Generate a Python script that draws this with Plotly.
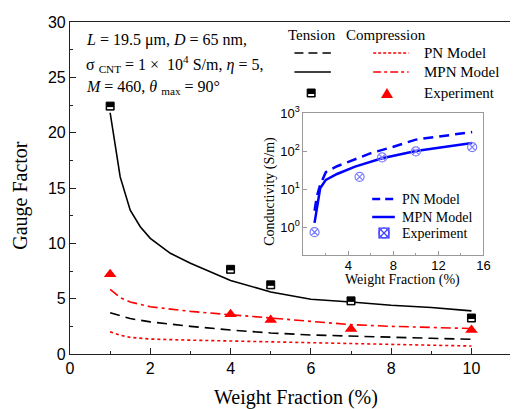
import plotly.graph_objects as go

# ---- Gauge factor vs weight fraction (main axes) ----
wf_exp = [1, 4, 5, 7, 10]
gf_tension_exp = [22.4, 7.65, 6.25, 4.8, 3.25]
gf_compression_exp = [7.2, 3.6, 3.07, 2.26, 2.17]

wf_tension_mpn = [1, 1.25, 1.5, 1.75, 2, 2.5, 3, 4, 5, 6, 7, 8, 9, 10]
gf_tension_mpn = [21.8, 16.0, 13.0, 11.5, 10.45, 9.1, 8.2, 6.65, 5.6, 4.95, 4.7, 4.4, 4.2, 3.9]

wf_tension_pn = [1, 1.5, 2, 3, 4, 5, 6, 7, 8, 9, 10]
gf_tension_pn = [3.73, 3.2, 2.9, 2.5, 2.17, 1.9, 1.72, 1.6, 1.5, 1.42, 1.33]

wf_comp_mpn = [1, 1.25, 1.5, 2, 3, 4, 5, 6, 7, 8, 9, 10]
gf_comp_mpn = [5.85, 5.1, 4.7, 4.27, 3.85, 3.55, 3.25, 2.9, 2.65, 2.5, 2.4, 2.3]

wf_comp_pn = [1, 1.25, 1.5, 2, 3, 4, 5, 6, 7, 8, 9, 10]
gf_comp_pn = [2.0, 1.7, 1.5, 1.35, 1.25, 1.2, 1.1, 1.02, 0.95, 0.88, 0.8, 0.72]

# ---- Conductivity vs weight fraction (inset) ----
wf_cond_exp = [1, 5, 7, 10, 15]
cond_exp = [0.74, 21, 68, 98, 127]

wf_cond_mpn = [1, 1.3, 1.5, 2, 3, 4.6, 7, 10, 15]
cond_mpn = [1.3, 5.2, 10.5, 17.5, 25, 39, 65, 100, 163]

wf_cond_pn = [1, 1.2, 1.5, 2, 3, 4, 6, 8, 10, 15]
cond_pn = [2.7, 6.4, 13, 28, 40, 52, 88, 130, 200, 316]

main_ticks = [0, 2, 4, 6, 8, 10]
inset_xticks = [4, 8, 12, 16]
inset_yticks = [1, 10, 100, 1000]
inset_yticktext = ["10<sup>0</sup>", "10<sup>1</sup>", "10<sup>2</sup>", "10<sup>3</sup>"]

SERIF = "Times New Roman, Liberation Serif, DejaVu Serif, serif"
SANS = "Arial, Liberation Sans, sans-serif"
W, H = 517, 409
ML, MR, MT, MB = 70, 0, 22, 55
PW, PH = W - ML - MR, H - MT - MB


def px(x):
    return (x - ML) / PW


def py(y):
    return (H - MB - y) / PH


fig = go.Figure()

# main axes curves
fig.add_trace(go.Scatter(x=wf_tension_mpn, y=gf_tension_mpn, mode="lines",
                         line=dict(color="black", width=1.6)))
fig.add_trace(go.Scatter(x=wf_tension_pn, y=gf_tension_pn, mode="lines",
                         line=dict(color="black", width=1.6, dash="10px,6px")))
fig.add_trace(go.Scatter(x=wf_comp_mpn, y=gf_comp_mpn, mode="lines",
                         line=dict(color="red", width=1.6, dash="10px,4px,3px,4px")))
fig.add_trace(go.Scatter(x=wf_comp_pn, y=gf_comp_pn, mode="lines",
                         line=dict(color="red", width=1.6, dash="3px,3px")))
fig.add_trace(go.Scatter(x=wf_exp, y=gf_compression_exp, mode="markers",
                         marker=dict(symbol="triangle-up", size=11, color="red")))

# inset curves
fig.add_trace(go.Scatter(x=wf_cond_pn, y=cond_pn, mode="lines", xaxis="x2", yaxis="y2",
                         line=dict(color="#0000ff", width=2.5, dash="10px,6px")))
fig.add_trace(go.Scatter(x=wf_cond_mpn, y=cond_mpn, mode="lines", xaxis="x2", yaxis="y2",
                         line=dict(color="#0000ff", width=2.5)))
fig.add_trace(go.Scatter(x=wf_cond_exp, y=cond_exp, mode="markers", xaxis="x2", yaxis="y2",
                         marker=dict(symbol="circle-x-open", size=9, color="#7b7bff",
                                     line=dict(width=1.2))))

shapes = []


def half_square(xref, yref, xa, ya):
    # black square with a white strip near its lower edge
    common = dict(xref=xref, yref=yref, xsizemode="pixel", ysizemode="pixel",
                  xanchor=xa, yanchor=ya, layer="above")
    shapes.append(dict(type="rect", x0=-4, x1=4, y0=-4, y1=4,
                       fillcolor="black", line=dict(color="black", width=1), **common))
    shapes.append(dict(type="rect", x0=-3, x1=3, y0=-3, y1=-1,
                       fillcolor="white", line=dict(width=0), **common))


for xv, yv in zip(wf_exp, gf_tension_exp):
    half_square("x", "y", xv, yv)

annotations = []


def text(x, y, s, size, xanchor="left", angle=0, font=SERIF, color="black"):
    annotations.append(dict(x=px(x), y=py(y), xref="paper", yref="paper", text=s,
                            showarrow=False, xanchor=xanchor, yanchor="middle",
                            textangle=angle, font=dict(family=font, size=size, color=color)))


def seg(x0, x1, y, color, dash, width=1.6):
    shapes.append(dict(type="line", xref="paper", yref="paper", x0=px(x0), x1=px(x1),
                       y0=py(y), y1=py(y), line=dict(color=color, width=width, dash=dash)))


# axis titles
text(19, 195, "Gauge Factor", 20, xanchor="center", angle=-90)
text(300, 397, "Weight Fraction (%)", 20, xanchor="center")

# parameter block
text(84, 40, "<i>L</i> = 19.5 μm, <i>D</i> = 65 nm,", 16)
text(84, 64, "σ <sub>CNT</sub> = 1 ×  10<sup>4</sup> S/m, <i>η</i> = 5,", 16)
text(84, 87, "<i>M</i> = 460, <i>θ</i> <sub>max</sub> = 90°", 16)

# main legend
text(316, 35, "Tension", 15, xanchor="center")
text(391, 35, "Compression", 15, xanchor="center")
seg(298, 335, 53, "black", "9px,5px")
seg(298, 335, 72, "black", "solid")
seg(378, 414, 53, "red", "3px,2px")
seg(378, 414, 72, "red", "8px,3px,3px,3px")
half_square("paper", "paper", px(315), py(93))
shapes.append(dict(type="path", xref="paper", yref="paper", xsizemode="pixel",
                   ysizemode="pixel", xanchor=px(392), yanchor=py(93),
                   path="M -6,-5 L 6,-5 L 0,5 Z", fillcolor="red", line=dict(width=0)))
text(428, 53, "PN Model", 15)
text(428, 72, "MPN Model", 15)
text(428, 93, "Experiment", 15)

# inset titles
text(273, 191, "Conductivity (S/m)", 14, xanchor="center", angle=-90)
text(408, 280, "Weight Fraction (%)", 14, xanchor="center")

# inset legend
seg(377, 400, 199, "#0000ff", "8px,5px", width=2.5)
seg(377, 400, 217, "#0000ff", "solid", width=2.5)
mk = dict(xref="paper", yref="paper", xsizemode="pixel", ysizemode="pixel",
          xanchor=px(389), yanchor=py(233))
shapes.append(dict(type="rect", x0=-5, x1=5, y0=-5, y1=5, line=dict(color="#4040ff", width=1.2), **mk))
shapes.append(dict(type="circle", x0=-5, x1=5, y0=-5, y1=5, line=dict(color="#4040ff", width=1.2), **mk))
shapes.append(dict(type="path", path="M -5,-5 L 5,5 M -5,5 L 5,-5",
                   line=dict(color="#4040ff", width=1.2), **mk))
text(405, 199, "PN Model", 14)
text(405, 217, "MPN Model", 14)
text(405, 233, "Experiment", 14)

ix0, ix1 = px(307), px(490)
iy0, iy1 = py(255), py(113)

fig.update_layout(
    width=W, height=H,
    margin=dict(l=ML, r=MR, t=MT, b=MB),
    paper_bgcolor="white", plot_bgcolor="white",
    showlegend=False,
    shapes=shapes, annotations=annotations,
    xaxis=dict(range=[0, 10.96], tickvals=main_ticks, showgrid=False, zeroline=False,
               showline=True, linecolor="#222", linewidth=1.2, mirror=True,
               ticks="inside", ticklen=6, tickcolor="#222",
               minor=dict(ticks="inside", dtick=1, ticklen=3, tickcolor="#222"),
               tickfont=dict(family=SANS, size=16, color="black"), domain=[0, 1]),
    yaxis=dict(range=[0, 30], dtick=5, showgrid=False, zeroline=False,
               showline=True, linecolor="#222", linewidth=1.2,
               ticks="inside", ticklen=6, tickcolor="#222",
               minor=dict(ticks="inside", dtick=2.5, ticklen=3, tickcolor="#222"),
               tickfont=dict(family=SANS, size=16, color="black"), domain=[0, 1]),
    xaxis2=dict(domain=[ix0, ix1], anchor="y2", range=[0, 16], tickvals=inset_xticks,
                showgrid=False, zeroline=False, showline=True, mirror=True,
                linecolor="#999", linewidth=1, ticks="inside", ticklen=4, tickcolor="#999",
                minor=dict(ticks="inside", dtick=2, ticklen=2, tickcolor="#999"),
                ticklabelstandoff=-2,
                tickfont=dict(family=SANS, size=13, color="black")),
    yaxis2=dict(domain=[iy0, iy1], anchor="x2", type="log", range=[-0.73, 3],
                tickvals=inset_yticks, ticktext=inset_yticktext,
                showgrid=False, zeroline=False, showline=True, mirror=True,
                linecolor="#999", linewidth=1, ticks="inside", ticklen=4, tickcolor="#999",
                tickfont=dict(family=SANS, size=13, color="black")),
)

fig.write_html("out.html")
